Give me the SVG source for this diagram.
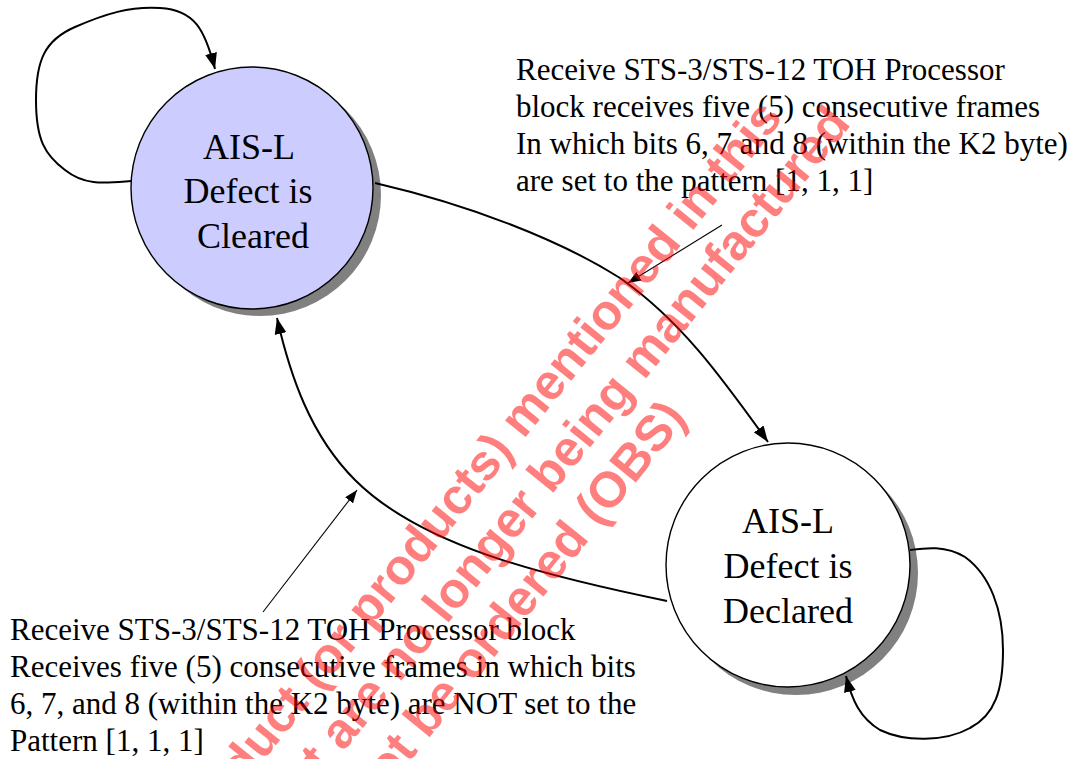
<svg xmlns="http://www.w3.org/2000/svg" width="1078" height="759" viewBox="0 0 1078 759">
<style>
.state{stroke:#000;stroke-width:1.4}
.shadow{fill:#808080;stroke:none}
.lbl{font-family:"Liberation Serif","Times New Roman",serif;font-size:36px;fill:#000;text-anchor:middle}
.note{font-family:"Liberation Serif","Times New Roman",serif;font-size:31px;fill:#000}
.edge{fill:none;stroke:#000;stroke-width:2}
.lead{fill:none;stroke:#000;stroke-width:1.1}
.wm{font-family:"Liberation Sans",Arial,sans-serif;font-weight:bold;font-size:50px;fill:#ff0000;fill-opacity:0.5;text-anchor:end}
</style>
<defs>
<marker id="ah" viewBox="0 0 16 12" refX="16" refY="6" markerWidth="16" markerHeight="12" orient="auto" markerUnits="userSpaceOnUse">
<path d="M0,0 L16,6 L0,12 z" fill="#000"/>
</marker>
<marker id="ahs" viewBox="0 0 13 10" refX="13" refY="5" markerWidth="13" markerHeight="10" orient="auto" markerUnits="userSpaceOnUse">
<path d="M0,0 L13,5 L0,10 z" fill="#000"/>
</marker>
</defs>
<rect width="1078" height="759" fill="#fff"/>
<g id="node-cleared">
<circle class="shadow" cx="260" cy="195" r="121"/>
<circle class="state" cx="252" cy="188" r="121" fill="#ccccff"/>
<text class="lbl" x="249" y="159">AIS-L</text>
<text class="lbl" x="248" y="203">Defect is</text>
<text class="lbl" x="253" y="248">Cleared</text>
</g>
<g id="node-declared">
<circle class="shadow" cx="796" cy="573" r="122"/>
<circle class="state" cx="788" cy="565" r="122" fill="#fff"/>
<text class="lbl" x="788" y="533">AIS-L</text>
<text class="lbl" x="788" y="578">Defect is</text>
<text class="lbl" x="788" y="623">Declared</text>
</g>
<g id="connectors">
<path class="edge" marker-end="url(#ah)" d="M131,181 C105,183 85,186 65,170 C45,155 36,140 36,100 C36,60 45,40 75,27 C105,14 130,6 160,8 C195,10 205,30 215,69"/>
<path class="edge" marker-end="url(#ah)" d="M910,550 C925,548 945,545 965,557 C990,575 1003,610 1003,650 C1003,690 995,715 970,728 C945,742 905,742 880,730 C860,718 852,700 846,676"/>
<path class="edge" marker-end="url(#ah)" d="M375,183 C470,205 560,240 620,278 C680,320 720,375 768,442"/>
<path class="edge" marker-end="url(#ah)" d="M667,601 C540,575 420,545 355,480 C310,435 290,375 277,318"/>
<path class="lead" marker-end="url(#ahs)" d="M263,612 L357,490"/>
<path class="lead" marker-end="url(#ahs)" d="M722,225 L628,283"/>
</g>
<g id="label-set">
<text class="note" x="516" y="80">Receive STS-3/STS-12 TOH Processor</text>
<text class="note" x="516" y="117">block receives five (5) consecutive frames</text>
<text class="note" x="516" y="154">In which bits 6, 7 and 8 (within the K2 byte)</text>
<text class="note" x="516" y="191">are set to the pattern [1, 1, 1]</text>
</g>
<g id="label-notset">
<text class="note" x="10" y="640">Receive STS-3/STS-12 TOH Processor block</text>
<text class="note" x="10" y="677">Receives five (5) consecutive frames in which bits</text>
<text class="note" x="10" y="714">6, 7, and 8 (within the K2 byte) are NOT set to the</text>
<text class="note" x="10" y="751">Pattern [1, 1, 1]</text>
</g>
<g id="watermark">
<text class="wm" transform="translate(784,118) rotate(-51)">duct (or products) mentioned in this</text>
<text class="wm" transform="translate(852,124) rotate(-51)">et are no longer being manufactured</text>
<text class="wm" transform="translate(688,418) rotate(-51)">ot be ordered (OBS)</text>
</g>
</svg>
